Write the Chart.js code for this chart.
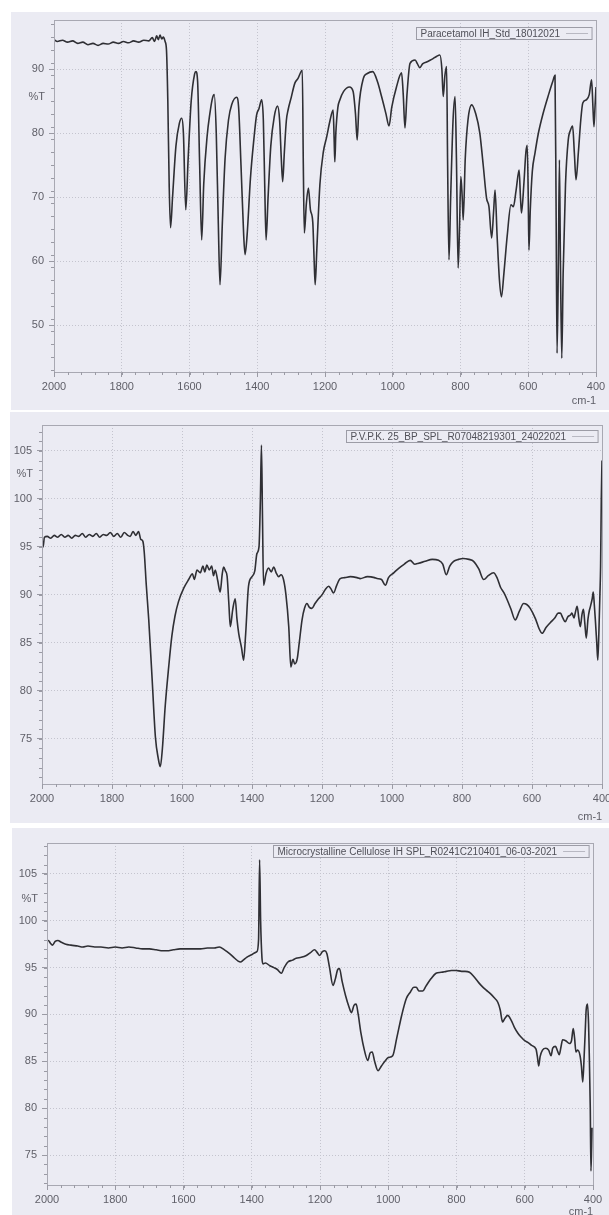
<!DOCTYPE html>
<html>
<head>
<meta charset="utf-8">
<title>IR spectra</title>
<script src="https://cdn.jsdelivr.net/npm/chart.js@4.4.1/dist/chart.umd.min.js"></script>
<style>
  html, body { margin: 0; padding: 0; background: #ffffff; }
  body { width: 609px; height: 1215px; position: relative; overflow: hidden; }
  canvas { position: absolute; background: #ebebf3; }
</style>
</head>
<body>
<canvas id="para" width="598" height="398" style="left:11px;top:12px"></canvas>
<canvas id="pvp" width="599" height="411" style="left:10px;top:412px"></canvas>
<canvas id="mcc" width="597" height="387" style="left:12px;top:828px"></canvas>
<script>
// ── Data ───────────────────────────────────────────────────────────────────
const xTicks = [2000, 1800, 1600, 1400, 1200, 1000, 800, 600, 400];

// Paracetamol IH_Std_18012021
const paraLabel = "Paracetamol IH_Std_18012021";
const paraTicks = [50, 60, 70, 80, 90];
const paraWn = [
  2000, 1990, 1975, 1960, 1945, 1930, 1915, 1900, 1885, 1870, 1855, 1840, 1825, 1810,
  1795, 1780, 1765, 1750, 1735, 1720, 1710, 1703, 1697, 1692, 1687, 1682, 1677, 1672,
  1668, 1664, 1660, 1656, 1650, 1640, 1630, 1623, 1618, 1611, 1604, 1595, 1585, 1581,
  1576, 1570, 1564, 1558, 1548, 1540, 1532, 1527, 1521, 1515, 1510, 1503, 1495, 1485,
  1475, 1461, 1455, 1448, 1440, 1436, 1430, 1420, 1410, 1402, 1395, 1387, 1382, 1378,
  1374, 1368, 1360, 1350, 1340, 1334, 1329, 1325, 1320, 1314, 1309, 1300, 1289, 1280,
  1267, 1264, 1261, 1255, 1249, 1243, 1236, 1232, 1229, 1224, 1215, 1205, 1195, 1185,
  1176, 1173, 1171, 1168, 1162, 1156, 1145, 1128, 1117, 1110, 1105, 1100, 1087, 1075,
  1059, 1045, 1033, 1020, 1011, 1003, 989, 974, 969, 964, 958, 949, 934, 927,
  920, 912, 900, 885, 870, 861, 855, 851, 846, 841, 838, 834, 829, 822,
  816, 812, 807, 803, 799, 795, 792, 786, 778, 767, 755, 743, 733, 723,
  716, 708, 702, 698, 692, 685, 679, 672, 662, 651, 644, 636, 627, 623,
  620, 613, 607, 603, 600, 598, 594, 588, 580, 570, 556, 540, 528, 521,
  518, 515, 511, 508, 505, 501, 497, 490, 482, 475, 469, 464, 459, 452,
  445, 439, 428, 420, 413, 409, 406, 403, 400
];
const paraT = [
  94.6, 94.3, 94.5, 94.2, 94.4, 94.0, 94.2, 93.8, 94.0, 93.7, 94.0, 93.9, 94.2, 94.0,
  94.3, 94.1, 94.4, 94.2, 94.5, 94.4, 94.9, 94.3, 95.2, 94.6, 95.3, 94.7, 95.0, 94.3,
  93.0, 85.0, 72.0, 65.2, 70.0, 78.0, 81.5, 82.3, 80.0, 68.0, 76.0, 85.0, 89.2, 89.6,
  88.0, 75.0, 63.3, 72.0, 79.5, 83.0, 85.5, 86.0, 80.0, 66.0, 56.3, 66.0, 76.0, 82.0,
  84.5, 85.6, 84.0, 75.0, 64.0, 61.0, 64.0, 73.0, 79.0, 82.8, 83.8, 85.2, 82.0, 72.0,
  63.3, 70.0, 78.0, 82.5, 84.2, 82.0, 76.0, 72.4, 77.0, 82.0, 83.6, 85.5, 87.8, 88.5,
  89.8, 75.0, 64.4, 69.0, 71.4, 68.0, 66.0, 60.0, 56.3, 62.0, 72.0, 77.0, 79.4, 82.0,
  83.6, 79.0, 75.5, 80.0, 84.0, 85.2, 86.5, 87.2, 86.5, 83.0, 78.9, 84.0, 88.5, 89.3,
  89.6, 88.0, 85.7, 83.0, 81.1, 84.0, 87.2, 89.4, 86.0, 80.8, 86.0, 90.9, 91.4, 90.8,
  90.2, 90.8, 91.1, 91.5, 92.0, 92.2, 90.0, 85.7, 89.0, 90.4, 75.0, 60.2, 70.0, 82.0,
  85.7, 76.0, 58.9, 65.0, 73.2, 70.0, 66.4, 76.0, 82.0, 84.4, 83.0, 80.0, 75.0, 69.8,
  68.5, 63.6, 68.0, 71.1, 64.0, 57.0, 54.4, 58.0, 64.0, 68.8, 68.5, 71.0, 74.2, 70.0,
  67.5, 72.0, 77.0, 78.1, 70.0, 61.7, 68.0, 74.0, 76.9, 80.0, 83.1, 86.0, 88.0, 89.0,
  70.0, 45.6, 60.0, 75.8, 60.0, 44.8, 58.0, 72.0, 78.9, 80.5, 81.1, 77.0, 72.7, 77.0,
  82.0, 84.7, 85.2, 86.0, 88.3, 84.0, 81.0, 84.0, 87.2
];

// P.V.P.K. 25_BP_SPL_R07048219301_24022021
const pvpLabel = "P.V.P.K. 25_BP_SPL_R07048219301_24022021";
const pvpTicks = [75, 80, 85, 90, 95, 100, 105];
const pvpWn = [
  2000, 1997, 1993, 1985, 1975, 1965, 1955, 1945, 1935, 1925, 1915, 1905, 1895, 1885,
  1875, 1865, 1855, 1845, 1835, 1825, 1815, 1805, 1795, 1785, 1775, 1765, 1755, 1748,
  1740, 1732, 1724, 1718, 1712, 1708, 1702, 1695, 1685, 1676, 1668, 1662, 1656, 1648,
  1638, 1629, 1620, 1610, 1595, 1581, 1570, 1565, 1557, 1548, 1540, 1535, 1529, 1522,
  1515, 1510, 1505, 1498, 1491, 1485, 1481, 1476, 1471, 1466, 1462, 1455, 1448, 1443,
  1438, 1430, 1424, 1418, 1410, 1400, 1392, 1386, 1380, 1376, 1373, 1370, 1367, 1360,
  1353, 1345, 1338, 1331, 1324, 1317, 1310, 1303, 1295, 1289, 1283, 1278, 1271, 1265,
  1257, 1250, 1243, 1236, 1229, 1220, 1210, 1200, 1190, 1181, 1174, 1167, 1158, 1148,
  1135, 1119, 1100, 1091, 1070, 1050, 1043, 1030, 1019, 1010, 995, 980, 965, 948,
  935, 924, 905, 885, 867, 855, 845, 835, 824, 810, 797, 780, 767, 752,
  738, 725, 710, 700, 690, 680, 671, 660, 648, 636, 624, 615, 605, 590,
  580, 571, 560, 548, 535, 525, 519, 512, 505, 498, 490, 486, 480, 476,
  471, 466, 462, 457, 453, 449, 445, 440, 436, 433, 428, 425, 422, 419,
  415, 412, 409, 406, 404, 402, 400
];
const pvpT = [
  95.8, 95.0, 96.0, 96.1, 95.9, 96.2, 96.0, 96.3, 96.0, 96.2, 95.9, 96.2, 96.1, 96.4,
  96.0, 96.3, 96.1, 96.4, 96.0, 96.3, 96.2, 96.5, 96.1, 96.4, 96.0, 96.5, 96.2, 96.1,
  96.6, 96.2, 96.6, 95.8, 95.6, 94.5, 91.0, 87.4, 81.0, 75.2, 73.0, 72.1, 74.0, 78.4,
  82.5, 85.7, 87.8, 89.3, 90.7, 91.6, 92.2, 91.6, 92.6, 92.3, 93.0, 92.4, 93.1, 92.6,
  93.0, 92.0, 92.6, 91.5, 90.3, 92.2, 92.9, 92.5, 91.9, 89.0, 86.7, 88.5, 89.6, 87.5,
  86.0, 84.5, 83.2, 86.0, 90.9, 91.9, 92.5, 94.3, 95.0, 100.0, 105.6, 98.0, 91.0, 92.2,
  92.8, 92.4, 92.9, 92.3, 91.9, 92.1, 91.6, 90.0, 86.7, 82.5, 83.3, 82.8, 83.3, 85.0,
  87.4, 88.6, 89.1, 88.7, 88.6, 89.1, 89.6, 90.0, 90.6, 90.9, 90.6, 90.2, 91.0, 91.7,
  91.8, 91.9, 91.8, 91.7, 91.9, 91.8, 91.7, 91.6, 91.0, 91.8, 92.3, 92.8, 93.2, 93.6,
  93.2, 93.3, 93.5, 93.7, 93.6, 93.2, 92.1, 93.0, 93.5, 93.7, 93.8, 93.7, 93.5, 92.7,
  91.6, 92.0, 92.3, 91.8, 90.8, 90.2, 89.5, 88.5, 87.4, 88.3, 89.1, 89.0, 88.6, 87.5,
  86.5, 86.0, 86.6, 87.1, 87.6, 88.1, 88.1, 87.6, 87.2, 87.7, 87.9, 88.1, 87.6, 88.2,
  88.8, 87.5, 86.7, 88.0, 88.5, 87.0, 85.5, 87.5, 88.4, 88.8, 89.6, 90.3, 89.0, 87.4,
  85.0, 83.2, 86.0, 90.0, 93.0, 100.0, 104.0
];

// Microcrystalline Cellulose IH SPL_R0241C210401_06-03-2021
const mccLabel = "Microcrystalline Cellulose IH SPL_R0241C210401_06-03-2021";
const mccTicks = [75, 80, 85, 90, 95, 100, 105];
const mccWn = [
  2000, 1996, 1990, 1984, 1976, 1968, 1958, 1945, 1930, 1910, 1895, 1880, 1860, 1842,
  1820, 1800, 1780, 1760, 1740, 1720, 1700, 1680, 1660, 1649, 1630, 1610, 1590, 1570,
  1550, 1530, 1510, 1495, 1480, 1465, 1450, 1440, 1433, 1425, 1415, 1405, 1399, 1390,
  1385, 1380, 1377, 1374, 1370, 1367, 1360, 1347, 1335, 1325, 1313, 1305, 1294, 1280,
  1270, 1255, 1240, 1228, 1216, 1208, 1201, 1193, 1186, 1180, 1172, 1162, 1155, 1148,
  1143, 1135, 1125, 1115, 1108, 1100, 1094, 1088, 1080, 1070, 1060, 1053, 1047, 1040,
  1030, 1020, 1010, 1000, 987, 975, 960, 947, 935, 925, 918, 910, 899, 890,
  875, 860, 845, 830, 815, 801, 785, 775, 762, 748, 735, 725, 713, 700,
  690, 679, 672, 665, 658, 650, 640, 630, 620, 611, 600, 590, 580, 567,
  563, 559, 555, 548, 538, 530, 523, 518, 510, 504, 499, 494, 489, 480,
  469, 463, 458, 454, 450, 445, 438, 434, 430, 426, 423, 420, 416, 413,
  411, 408, 406, 404, 403
];
const mccT = [
  97.9, 97.9, 97.6, 97.4, 97.8, 97.9, 97.7, 97.5, 97.4, 97.3, 97.2, 97.3, 97.2, 97.2,
  97.1, 97.2, 97.1, 97.2, 97.1, 97.0, 97.0, 96.9, 96.8, 96.8, 96.9, 97.0, 97.0, 97.0,
  97.0, 97.1, 97.1, 97.2, 96.9, 96.5, 96.0, 95.7, 95.6, 95.8, 96.1, 96.3, 96.4, 96.6,
  96.7, 98.0, 106.5, 100.0, 96.0, 95.4, 95.5, 95.2, 95.0, 94.8, 94.4, 95.0, 95.6, 95.8,
  96.0, 96.1, 96.3, 96.6, 96.9, 96.6, 96.3, 96.7, 96.8, 96.5, 95.0, 93.1, 93.8, 94.8,
  94.9, 93.5, 92.0, 90.8, 90.2, 91.0, 91.1, 90.0, 88.0, 86.2, 85.1, 85.9, 86.0, 85.0,
  84.0, 84.5, 85.0, 85.4, 85.6, 87.5, 90.0, 91.7, 92.4, 92.9, 92.9, 92.5, 92.5, 93.0,
  93.8, 94.4, 94.5, 94.6, 94.7, 94.7, 94.6, 94.6, 94.5, 94.0, 93.4, 93.0, 92.6, 92.2,
  91.8, 91.3, 90.5, 89.2, 89.6, 89.9, 89.4, 88.6, 88.0, 87.6, 87.2, 87.0, 86.7, 86.3,
  85.5, 84.5, 85.5, 86.2, 86.4, 86.2, 85.6, 86.4, 86.6, 86.1, 85.7, 86.5, 87.3, 87.2,
  86.9, 87.2, 88.5, 87.5, 86.0, 86.2, 85.6, 84.5, 82.8, 85.5, 88.0, 90.5, 91.1, 89.0,
  85.9, 80.0, 73.3, 76.0, 77.9
];

// ── Styling ────────────────────────────────────────────────────────────────
const FONT    = "'Liberation Sans', Arial, sans-serif";
const PAPER   = "#ebebf3";   // scanned page tint
const INK     = "#2f2f34";   // spectrum trace
const TEXT    = "#5f5f68";
const FRAME   = "#a8a8b2";
const GRID    = "#c4c4ce";

/** Draws the plot frame, minor ticks, the in-plot legend box, %T and cm-1. */
const decorPlugin = {
  id: "decor",
  afterDraw(chart, args, opts) {
    const { ctx, chartArea: a, scales } = chart;
    const x = scales.x, y = scales.y;
    ctx.save();

    // frame
    ctx.strokeStyle = FRAME;
    ctx.lineWidth = 1;
    ctx.strokeRect(Math.round(a.left) + 0.5, Math.round(a.top) + 0.5,
                   Math.round(a.right - a.left), Math.round(a.bottom - a.top));

    // minor ticks
    ctx.strokeStyle = "#9a9aa4";
    ctx.beginPath();
    for (let v = 400; v <= 2000; v += 40) {
      const px = Math.round(x.getPixelForValue(v)) + 0.5;
      ctx.moveTo(px, a.bottom); ctx.lineTo(px, a.bottom + 3);
    }
    for (let v = Math.ceil(y.min); v <= y.max; v += opts.minorStep) {
      const py = Math.round(y.getPixelForValue(v)) + 0.5;
      ctx.moveTo(a.left - 3, py); ctx.lineTo(a.left, py);
    }
    ctx.stroke();

    // legend box (top-right, inside plot)
    ctx.font = `10px ${FONT}`;
    const tw = ctx.measureText(opts.label).width;
    const bw = tw + 36, bh = 12;
    const bx = Math.round(a.right - 4 - bw) + 0.5;
    const by = Math.round(a.top + opts.legendTop) + 0.5;
    ctx.fillStyle = PAPER;
    ctx.fillRect(bx, by, bw, bh);
    ctx.strokeStyle = "#9c9ca6";
    ctx.strokeRect(bx, by, bw, bh);
    ctx.fillStyle = "#505058";
    ctx.textBaseline = "middle";
    ctx.textAlign = "left";
    ctx.fillText(opts.label, bx + 4, by + bh / 2 + 0.5);
    ctx.strokeStyle = "#b8b8c2";
    ctx.beginPath();
    ctx.moveTo(bx + tw + 10, by + bh / 2);
    ctx.lineTo(bx + bw - 4, by + bh / 2);
    ctx.stroke();

    // axis units
    ctx.font = `11px ${FONT}`;
    ctx.fillStyle = TEXT;
    ctx.textAlign = "right";
    ctx.fillText("%T", a.left - 9, y.getPixelForValue(opts.unitAt));
    ctx.textAlign = "center";
    ctx.fillText("cm-1", a.right - 12, a.bottom + opts.cmOffset);

    ctx.restore();
  },
};

/**
 * Builds one spectrum chart. `box` fixes the plot area inside the canvas so
 * the three panels sit where they do on the printout.
 */
function spectrumChart(id, wn, t, yTicks, yRange, box, extra) {
  const canvas = document.getElementById(id);
  const points = wn.map((w, i) => ({ x: w, y: t[i] }));

  return new Chart(canvas, {
    type: "line",
    data: {
      datasets: [{
        data: points,
        borderColor: INK,
        borderWidth: 1.6,
        pointRadius: 0,
        cubicInterpolationMode: "monotone",
        fill: false,
      }],
    },
    options: {
      responsive: false,
      animation: false,
      events: [],
      layout: { padding: { top: box.top, right: box.right, left: 0, bottom: 0 } },
      plugins: {
        legend: { display: false },
        tooltip: { enabled: false },
        decor: extra,
      },
      scales: {
        x: {
          type: "linear",
          min: 400,
          max: 2000,
          reverse: true,
          afterBuildTicks: s => { s.ticks = xTicks.map(v => ({ value: v })); },
          afterFit: s => { s.height = box.bottom; s.paddingLeft = 0; s.paddingRight = 0; },
          ticks: {
            color: TEXT,
            font: { family: FONT, size: 11 },
            padding: 3,
            maxRotation: 0,
            autoSkip: false,
            callback: v => String(v),
          },
          grid: { color: GRID, tickColor: "#9a9aa4", tickLength: 5, lineWidth: 1 },
          border: { display: false, dash: [1, 2] },
        },
        y: {
          type: "linear",
          min: yRange[0],
          max: yRange[1],
          afterBuildTicks: s => { s.ticks = yTicks.map(v => ({ value: v })); },
          afterFit: s => { s.width = box.left; s.paddingTop = 0; s.paddingBottom = 0; },
          ticks: {
            color: TEXT,
            font: { family: FONT, size: 11 },
            padding: 5,
            autoSkip: false,
            callback: v => String(v),
          },
          grid: { color: GRID, tickColor: "#9a9aa4", tickLength: 5, lineWidth: 1 },
          border: { display: false, dash: [1, 2] },
        },
      },
    },
    plugins: [decorPlugin],
  });
}

spectrumChart("para", paraWn, paraT, paraTicks, [42.66, 97.66],
  { left: 43, top: 8, right: 13, bottom: 38 },
  { label: paraLabel, unitAt: 85.6, minorStep: 2, legendTop: 7, cmOffset: 29 });

spectrumChart("pvp", pvpWn, pvpT, pvpTicks, [70.3, 107.7],
  { left: 32, top: 13, right: 7, bottom: 39 },
  { label: pvpLabel, unitAt: 102.6, minorStep: 1, legendTop: 5, cmOffset: 33 });

spectrumChart("mcc", mccWn, mccT, mccTicks, [71.8, 108.3],
  { left: 35, top: 15, right: 16, bottom: 30 },
  { label: mccLabel, unitAt: 102.3, minorStep: 1, legendTop: 2, cmOffset: 27 });
</script>
</body>
</html>
